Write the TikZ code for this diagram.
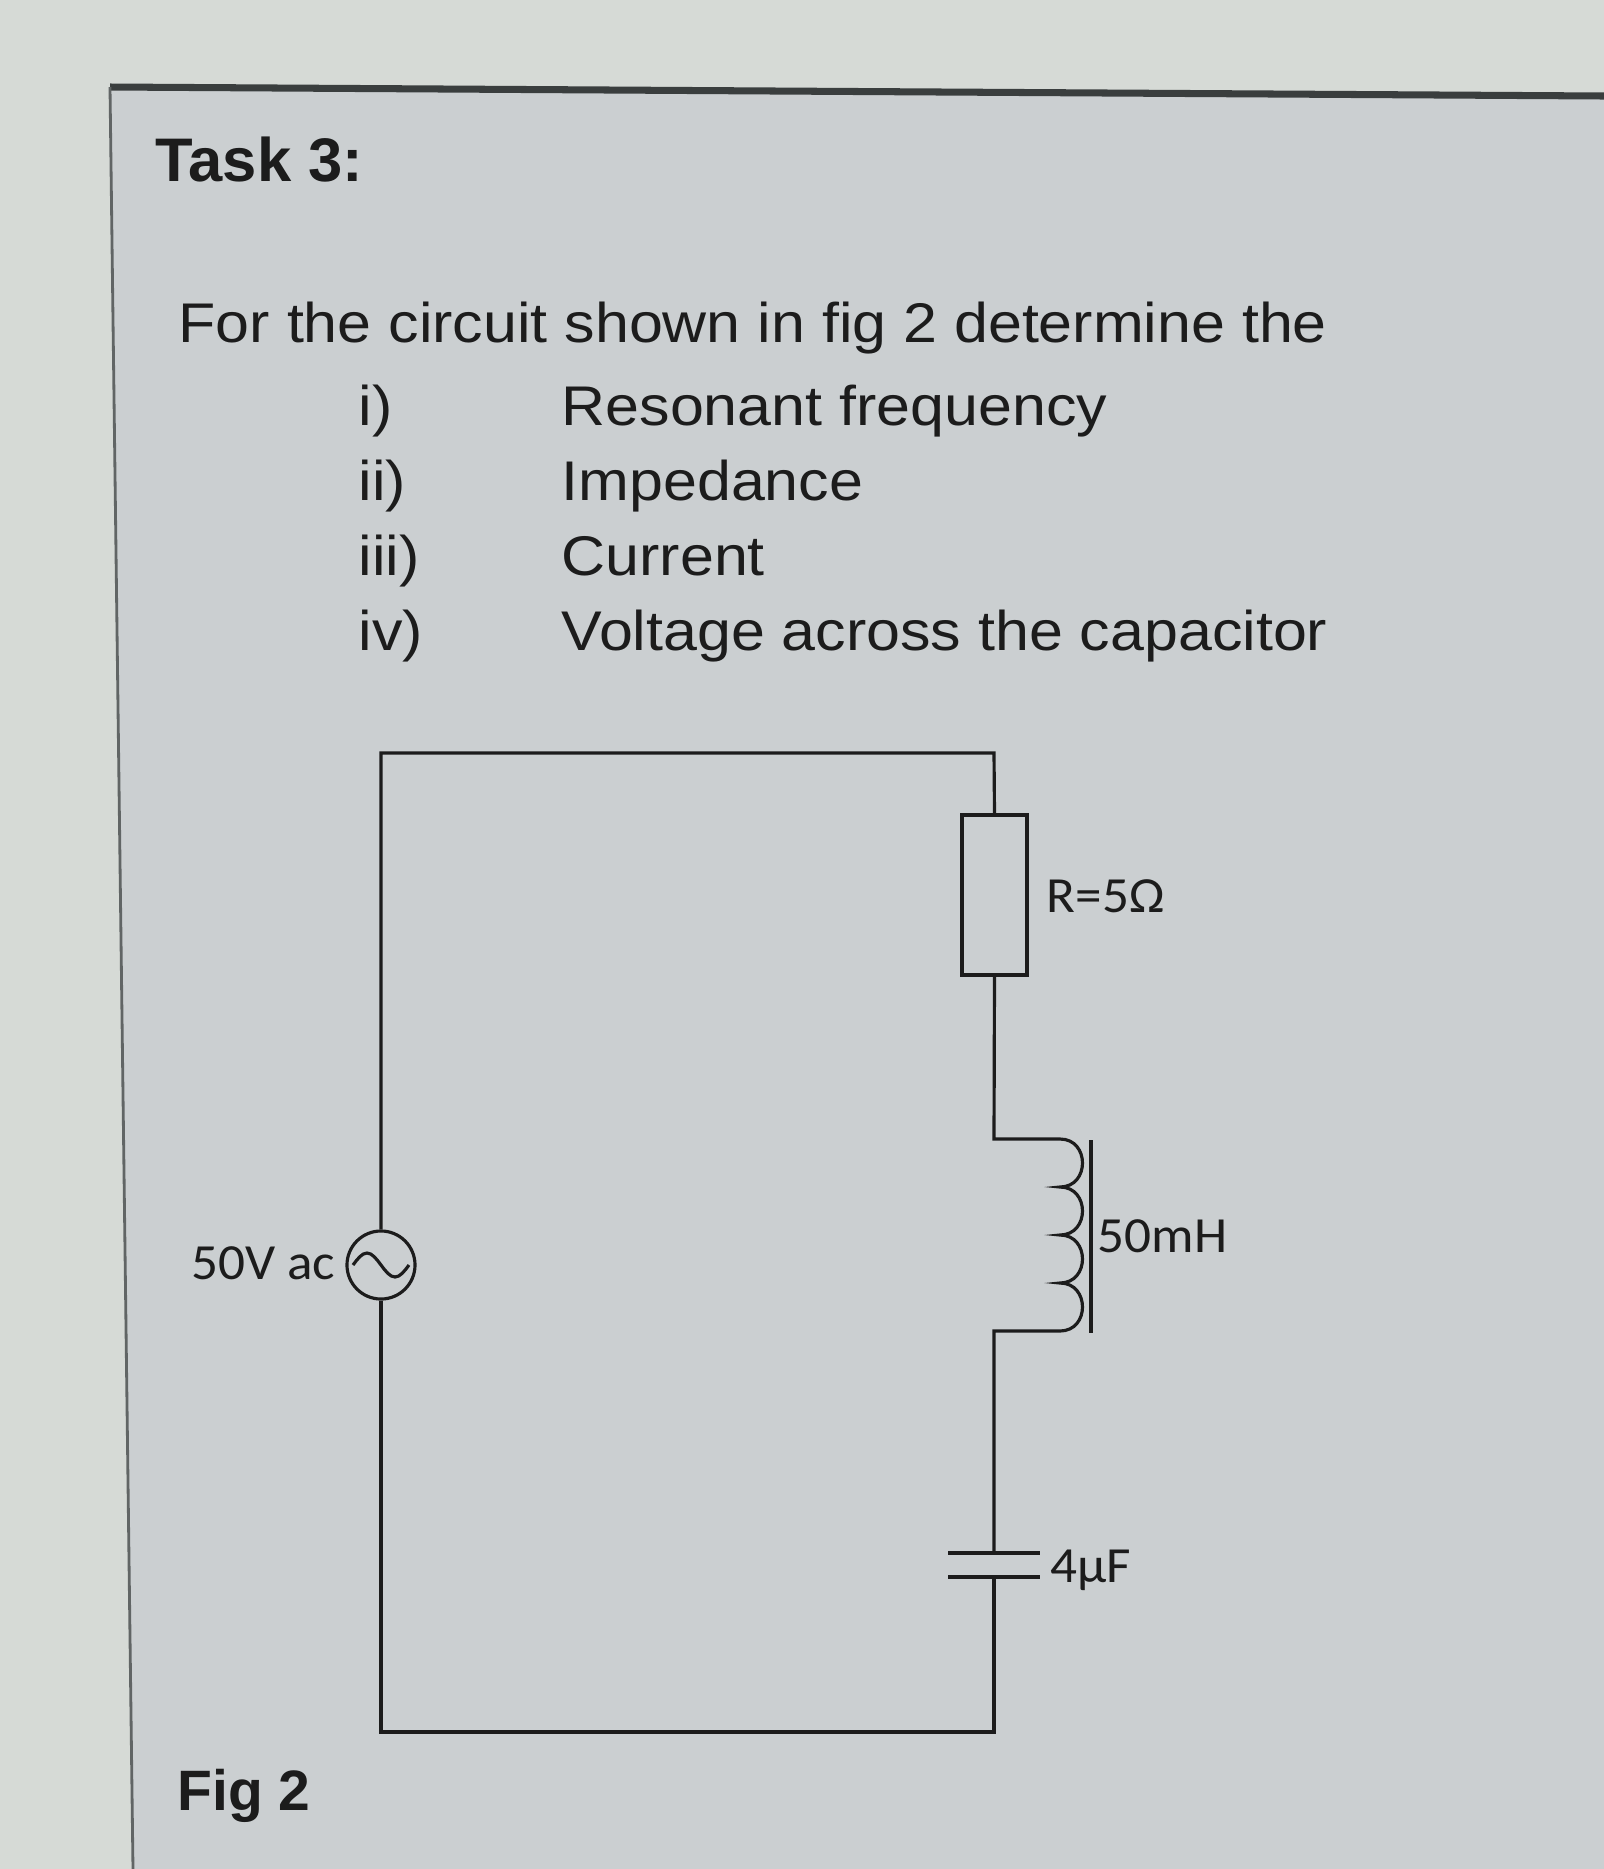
\documentclass[tikz,border=0pt]{standalone}
\usepackage{fontspec}
\setmainfont{Liberation Sans}
\newfontfamily\bodyfont[FakeStretch=1.09]{Liberation Sans}
\newfontfamily\calfont[FakeStretch=1.05]{Carlito}
\definecolor{screen}{RGB}{214,218,214}
\definecolor{panel}{RGB}{203,207,209}
\definecolor{edge}{RGB}{58,62,62}
\definecolor{ink}{RGB}{28,28,28}

\begin{document}
\begin{tikzpicture}[x=0.01cm, y=-0.01cm,
  wire/.style={draw=ink, line width=0.9pt},
  txt/.style={anchor=base west, inner sep=0pt, text=ink, font=\bodyfont\fontsize{15.9}{19}\selectfont},
  head/.style={anchor=base west, inner sep=0pt, text=ink, font=\fontsize{17.5}{21}\selectfont\bfseries},
  lbl/.style={inner sep=0pt, text=ink, font=\calfont\fontsize{14.4}{17}\selectfont},
  resbox/.style={draw=ink, line width=1.1pt, minimum width=0.65cm, minimum height=1.6cm, inner sep=0pt},
  acsrc/.style={draw=ink, line width=0.9pt, circle, minimum size=0.68cm, inner sep=0pt}]
% Page is measured in pixels of the photo
\useasboundingbox (0,0) rectangle (1604,1869);
\fill[screen] (0,0) rectangle (1604,1869);
\fill[panel] (110,87) -- (1604,96) -- (1604,1869) -- (133,1869) -- cycle;
\draw[edge, line width=2pt] (110,87) -- (1604,96);
\draw[edge!80, line width=0.8pt] (110,87) -- (133,1869);

% Question text
\node[head] (task) at (155,181) {Task 3:};
\node[txt] (intro) at (178,342) {For the circuit shown in fig 2 determine the};
\foreach \num/\item [count=\k] in {i)/Resonant frequency, ii)/Impedance, iii)/Current, iv)/Voltage across the capacitor} {
  \node[txt] (num\k) at (358, 350+75*\k) {\num};
  \node[txt] (item\k) at (561, 350+75*\k) {\item};
}
\node[head, font=\fontsize{16.2}{20}\selectfont\bfseries] (fig) at (177,1810) {Fig 2};

% Circuit corners and components
\coordinate (tl) at (381,753);
\coordinate (tr) at (994,753);
\coordinate (br) at (994,1732);
\coordinate (bl) at (381,1732);
\coordinate (coilT) at (994,1139);
\coordinate (coilB) at (994,1331);
\coordinate (capT) at (994,1553);
\coordinate (capB) at (994,1577);
\node[acsrc] (src) at (381,1265) {};
\node[resbox] (res) at (994.5,895) {};

\draw[wire] (src.north) -- (tl) -- (tr) -- (res.north);
\draw[wire] (res.south) -- (coilT) -- (1060,1139)
  .. controls (1090,1139) and (1090,1187) .. (1060,1187)
  .. controls (1090,1187) and (1090,1235) .. (1060,1235)
  .. controls (1090,1235) and (1090,1283) .. (1060,1283)
  .. controls (1090,1283) and (1090,1331) .. (1060,1331)
  -- (coilB) -- (capT);
\draw[wire] (1091,1140) -- (1091,1333);
\draw[wire] (capT) ++(-46,0) -- ++(92,0);
\draw[wire] (capB) ++(-46,0) -- ++(92,0);
\draw[wire] (capB) -- (br) -- (bl) -- (src.south);
\draw[wire] (src.center) ++(-28,0) sin ++(14,-12) cos ++(14,12) sin ++(14,12) cos ++(14,-12);

\node[lbl, anchor=base east] (vlbl) at (336,1279) {50V ac};
\node[lbl, anchor=base west] (rlbl) at (1046,912) {R=5Ω};
\node[lbl, anchor=base west] (llbl) at (1097,1252) {50mH};
\node[lbl, anchor=base west] (clbl) at (1050,1582) {4µF};
\end{tikzpicture}
\end{document}
